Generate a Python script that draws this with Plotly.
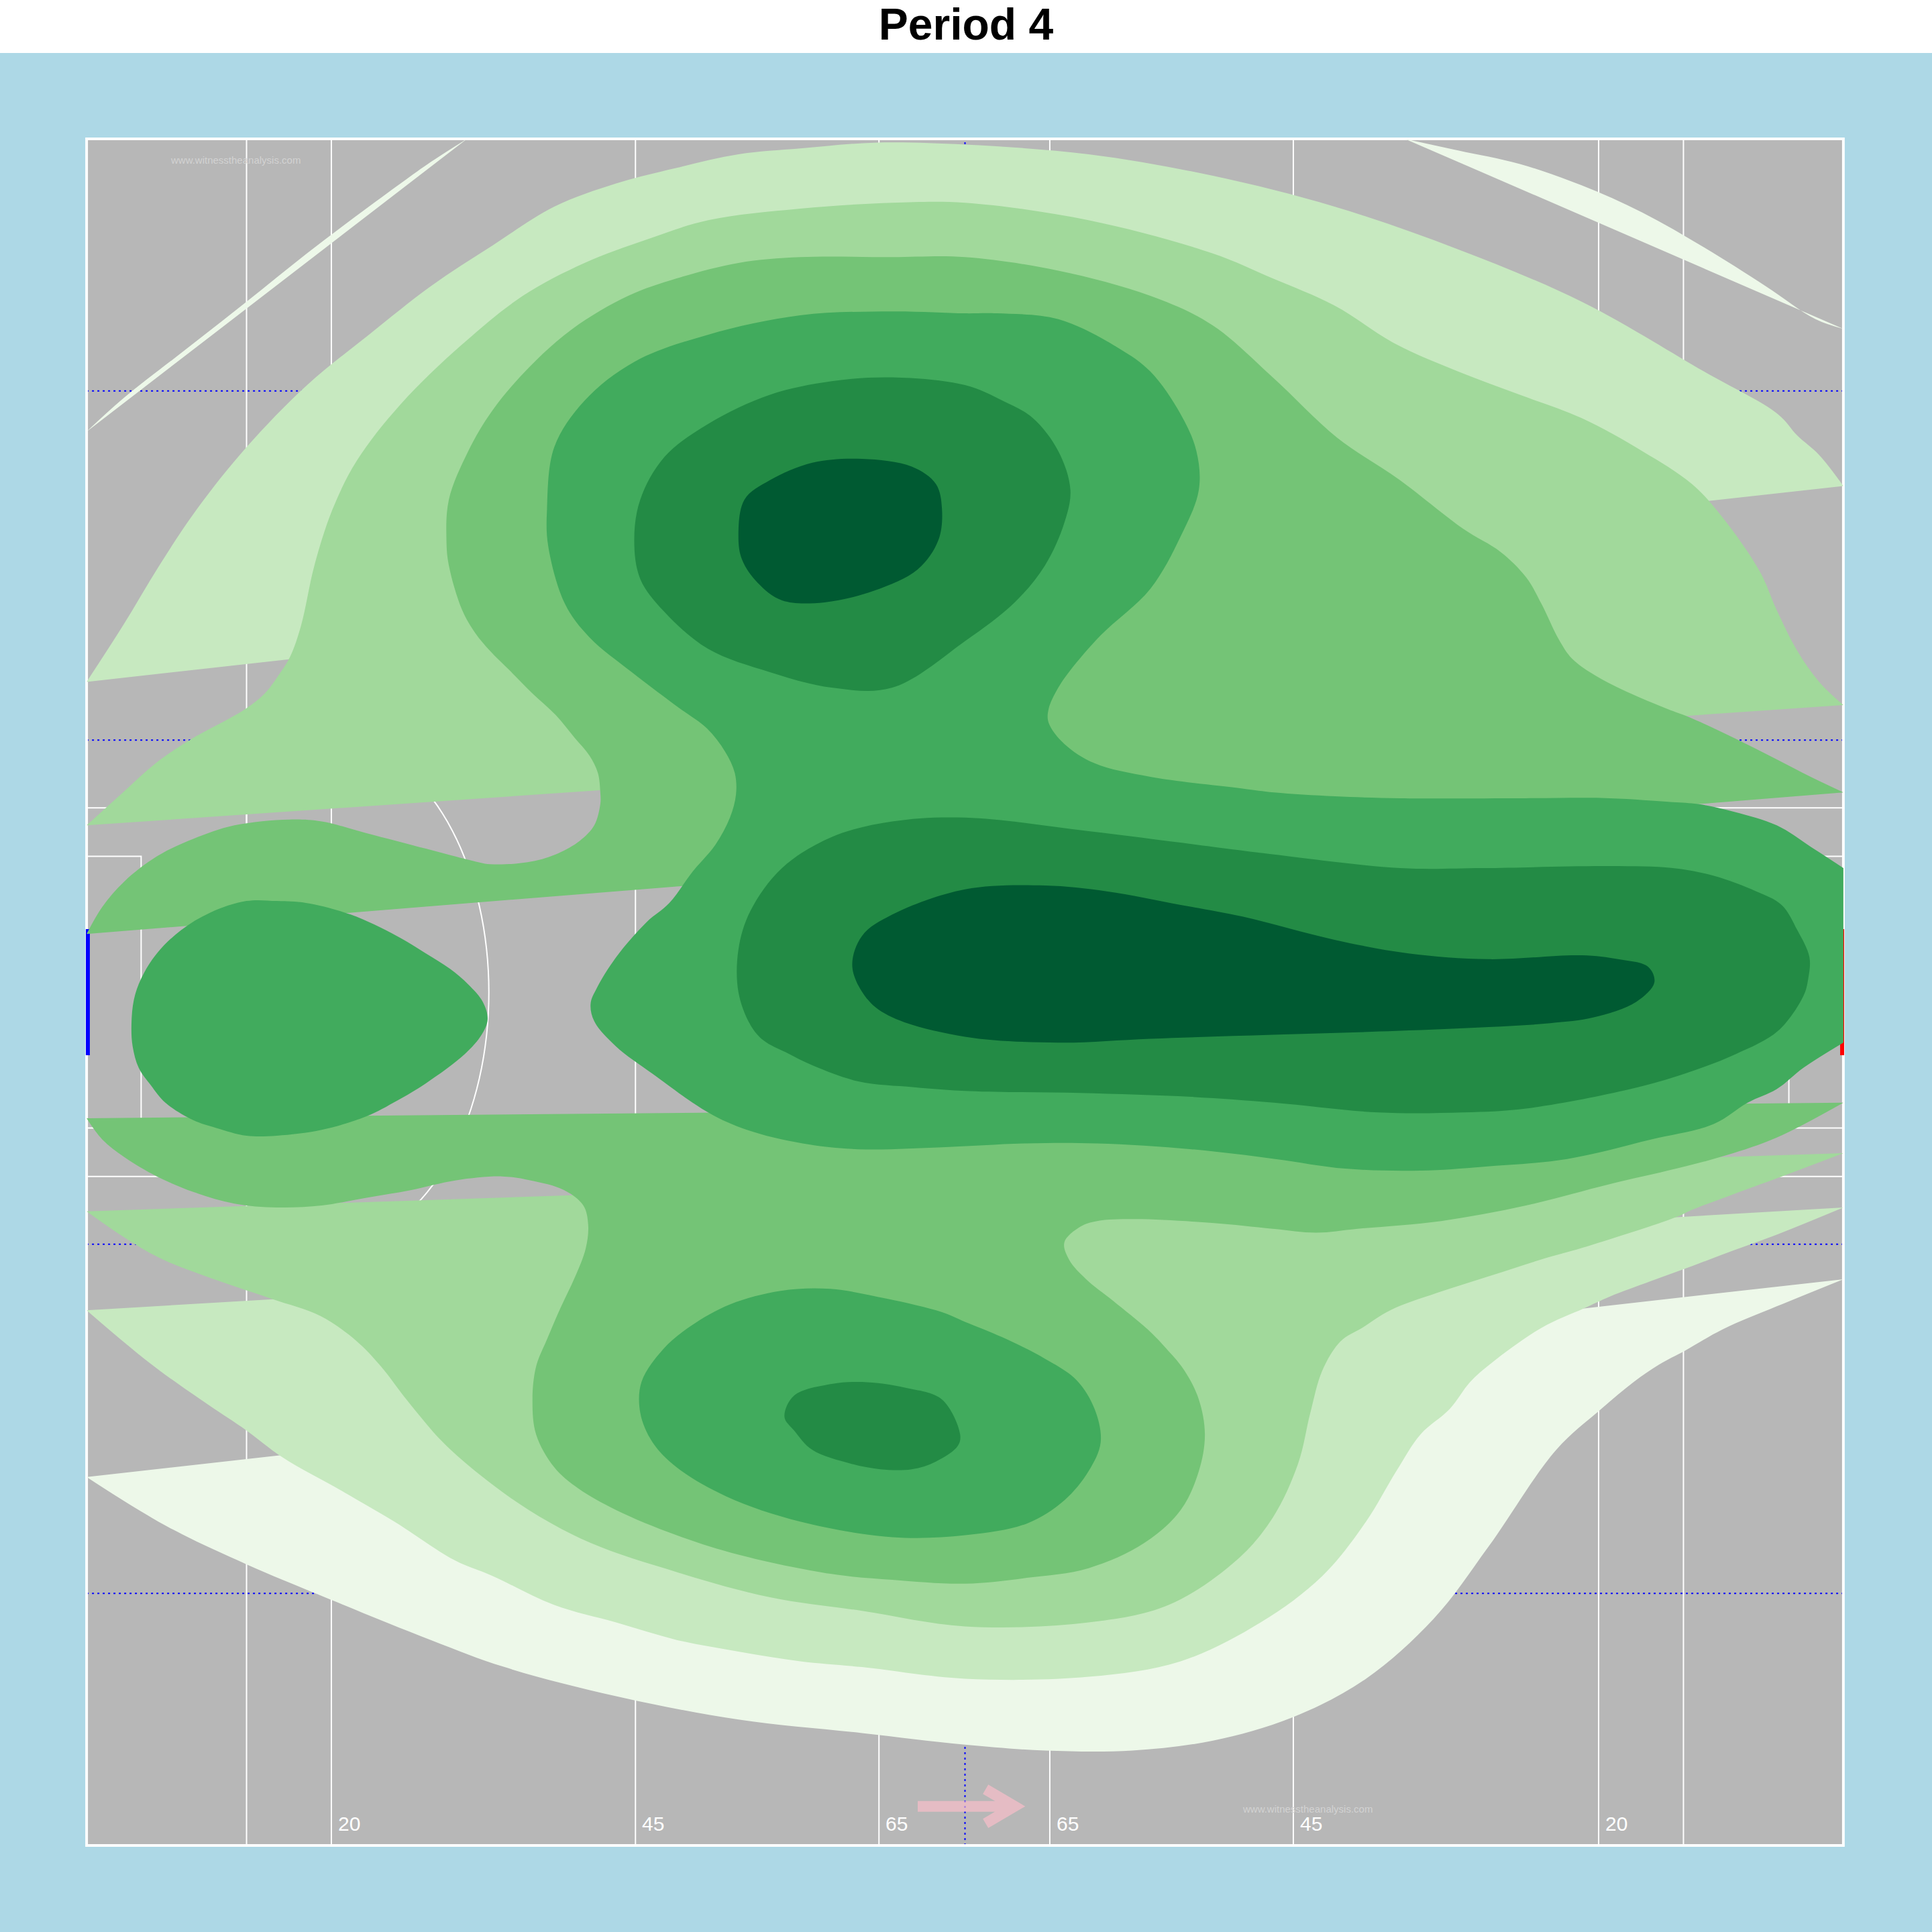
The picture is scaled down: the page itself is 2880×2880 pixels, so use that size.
import numpy as np
import plotly.graph_objects as go

# ---------------- chart data (pitch metres: x 0..145 along, y 0..88 across) ----------------
title_text = "Period 4"
pitch_length = 145
pitch_width = 88
level_colors = ["#edf8e9", "#c7e9c0", "#a1d99b", "#74c476", "#41ab5d", "#238b45", "#005a32"]

marking_lines_x = [13.2, 20.2, 45.3, 65.4, 79.5, 99.6, 124.8, 131.8]
distance_labels = ["20", "45", "65", "65", "45", "20"]
distance_label_x = [20.2, 45.3, 65.4, 79.5, 99.6, 124.8]
dotted_lines_y = [13, 31, 57, 75]
half_way_x = 72.5
goal_center_y = 44
goal_half_width = 3.25
arc_radius = 13
large_box = [13.2, 34.5, 53.5]   # depth, y from, y to
small_box = [4.5, 37.0, 51.0]
watermark = "www.witnesstheanalysis.com"
watermark_pos = [(6.8, 86.9), (95.3, 1.9)]
attack_arrow_x = [68.6, 76.6]
attack_arrow_y = 2.02

# density contour paths, one list pair per path (level 1 = lowest)
l1_a_x = [0, 3.0, 8.1, 13.2, 18.2, 23.3, 28.4, 31.4]
l1_a_y = [72.9, 74.6, 77.1, 79.6, 82.1, 84.5, 86.8, 88.0]
l1_b_x = [108.8, 113.2, 118.3, 123.4, 128.4, 133.5, 138.6, 142.7, 145]
l1_b_y = [88.0, 87.4, 86.7, 85.6, 84.2, 82.4, 80.4, 78.7, 78.2]
l1_c_x = [0, 3.0, 7.1, 13.2, 19.3, 28.4, 34.5, 43.7, 53.8, 64.0, 72.5, 79.1, 86.3, 92.9, 99.5,
          105.6, 111.2, 115.7, 121.3, 125.0, 127.7, 129.8, 131.9, 135.0, 139.5, 145]
l1_c_y = [19.0, 17.8, 16.3, 14.5, 12.9, 10.6, 9.2, 7.7, 6.5, 5.8, 5.2, 4.9, 4.9, 5.4, 6.6,
          8.6, 11.7, 15.4, 20.4, 22.5, 23.9, 24.8, 25.5, 26.6, 27.8, 29.2]

l2_a_x = [0, 3.0, 6.0, 9.1, 13.2, 18.2, 23.3, 28.4, 33.5, 38.6, 43.7, 48.7, 53.8, 58.9, 65.0,
          72.5, 82.7, 92.9, 103.0, 113.2, 123.4, 133.5, 139.6, 141.2, 143.0, 145]
l2_a_y = [60.0, 62.9, 66.0, 68.9, 72.1, 75.3, 77.9, 80.4, 82.5, 84.5, 85.7, 86.5, 87.2, 87.5, 87.8,
          87.7, 87.2, 86.1, 84.5, 82.3, 79.6, 76.0, 73.8, 72.7, 71.7, 70.1]
l2_b_x = [0, 3.0, 6.0, 10.1, 13.2, 16.2, 21.3, 25.4, 30.4, 33.5, 38.6, 43.7, 48.7, 53.8, 58.9,
          64.0, 72.5, 82.7, 90.3, 96.9, 102.0, 105.6, 108.1, 110.1, 112.5, 114.2, 116.0, 120.1,
          123.6, 125.7, 129.1, 132.6, 136.0, 139.5, 145]
l2_b_y = [27.6, 26.0, 24.5, 22.7, 21.4, 20.0, 18.2, 16.7, 14.7, 13.9, 12.4, 11.5, 10.6, 10.0, 9.5,
          9.2, 8.6, 8.7, 9.5, 11.5, 13.9, 16.7, 19.3, 21.2, 22.5, 23.9, 24.9, 26.7,
          27.7, 28.3, 29.1, 29.9, 30.7, 31.5, 32.9]

l3_a_x = [0, 3.0, 5.7, 8.5, 13.1, 14.7, 15.8, 16.8, 17.7, 18.8, 20.3, 22.3, 25.9, 31.0, 36.0,
          41.1, 46.2, 51.3, 58.9, 66.5, 72.5, 82.7, 92.9, 97.9, 103.0, 108.1, 113.2, 118.3,
          123.4, 128.4, 132.5, 135.0, 138.1, 139.5, 141.2, 143.0, 145]
l3_a_y = [52.6, 54.3, 55.8, 57.0, 58.6, 59.4, 60.3, 61.3, 62.9, 66.0, 68.9, 71.4, 74.3, 77.4, 79.9,
          81.6, 82.8, 83.8, 84.4, 84.7, 84.7, 83.8, 82.1, 80.8, 79.4, 77.4, 76.0, 74.8,
          73.6, 71.9, 70.2, 68.5, 65.7, 63.7, 61.6, 60.0, 58.8]
l3_b_x = [0, 3.0, 6.0, 9.6, 15.2, 19.3, 22.3, 24.3, 26.4, 29.4, 32.5, 36.5, 41.6, 48.7, 56.4,
          64.0, 72.5, 82.7, 89.3, 94.9, 97.9, 100.0, 101.0, 102.0, 103.5, 105.3, 107.6, 111.5,
          116.0, 120.5, 123.9, 131.2, 132.6, 136.0, 139.5, 145]
l3_b_y = [32.7, 31.4, 30.3, 29.4, 28.2, 27.3, 26.0, 24.7, 23.0, 20.8, 19.1, 17.3, 15.6, 14.1, 12.8,
          12.1, 11.3, 11.5, 12.4, 14.7, 16.9, 19.7, 22.3, 24.5, 26.0, 26.7, 27.6, 28.5,
          29.4, 30.3, 30.9, 32.4, 32.8, 33.6, 34.4, 35.7]

l4_a_x = [0, 1.3, 3.1, 5.8, 8.8, 12.2, 16.7, 19.4, 23.1, 28.0, 31.7, 33.3, 36.4, 38.7, 40.7,
          41.9, 42.4, 42.4, 42.2, 41.5, 40.3, 38.7, 36.8, 34.9, 33.3, 32.1, 31.0, 29.9, 29.7, 29.9,
          31.5, 33.5, 36.5, 40.1, 44.7, 48.7, 53.8, 58.9, 66.5, 72.5, 80.2, 87.8, 92.9, 97.9, 103.2,
          108.4, 113.6, 116.7, 118.8, 120.1, 121.5, 122.6, 124.6, 127.1, 130.5, 132.2, 136.0,
          139.5, 142.3, 145]
l4_a_y = [47.0, 48.4, 49.7, 51.0, 51.9, 52.6, 52.9, 52.8, 52.2, 51.4, 50.8, 50.6, 50.7, 51.1, 51.8,
          52.6, 53.7, 54.3, 55.3, 56.2, 57.1, 58.3, 59.4, 60.6, 61.6, 62.5, 63.7, 66.0, 67.3, 69.4,
          71.9, 74.0, 76.2, 78.2, 79.9, 80.8, 81.6, 81.9, 81.9, 81.9, 81.2, 79.9, 78.4, 75.7, 72.6,
          70.4, 67.9, 66.7, 65.4, 64.0, 62.2, 61.2, 60.3, 59.5, 58.6, 58.2, 57.1,
          56.0, 55.1, 54.3]
l4_b_x = [0, 1.3, 3.1, 5.8, 8.8, 12.2, 15.7, 19.4, 23.1, 26.8, 30.5, 34.3, 36.6, 39.4, 41.0,
          41.4, 41.2, 40.3, 39.1, 38.0, 37.1, 36.8, 37.1, 38.6, 40.6, 43.7, 48.7, 53.8, 61.5, 66.5,
          72.5, 77.6, 82.7, 87.3, 90.3, 91.8, 92.3, 91.8, 90.6, 89.0, 87.6, 84.7, 82.5, 81.1, 80.7,
          82.0, 83.4, 86.6, 92.9, 97.9, 101.5, 104.9, 111.8, 118.8, 125.7, 131.2, 135.4, 139.5, 145]
l4_b_y = [37.5, 36.4, 35.5, 34.5, 33.7, 33.1, 32.9, 33.0, 33.4, 33.8, 34.3, 34.5, 34.3, 33.8, 33.0,
          32.0, 30.8, 29.3, 27.7, 26.1, 24.7, 23.0, 21.2, 19.5, 18.4, 17.3, 16.0, 15.0, 14.0, 13.7,
          13.5, 13.8, 14.3, 15.6, 17.3, 19.3, 21.2, 23.0, 24.5, 25.7, 26.6, 28.1, 29.2, 30.2, 31.1,
          31.9, 32.2, 32.3, 32.1, 31.8, 31.6, 31.8, 32.2, 33.0, 34.1, 34.9, 35.6, 36.5, 38.3]

l5_a_x = [145, 142.3, 139.5, 136.0, 133.0, 130.9, 125.7, 118.8, 108.4, 103.0, 98.0, 95.4, 87.8, 83.2,
          80.7, 79.4, 79.4, 80.2, 81.2, 83.7, 87.8, 90.3, 91.8, 91.6, 90.3, 87.8, 85.2, 80.2, 75.1,
          72.5, 66.5, 58.9, 51.3, 45.2, 41.1, 38.6, 38.0, 38.1, 39.5, 41.5, 45.0, 48.8, 51.2, 52.7,
          53.5, 53.6, 53.1, 51.9, 50.0, 48.1, 46.2, 43.7, 42.1, 41.6, 41.9, 43.7, 46.7, 51.3, 54.5,
          59.1, 63.7, 70.6, 77.5, 83.4, 91.2, 98.1, 103.9, 110.1, 115.3, 122.2, 129.1, 134.3,
          137.1, 139.5, 141.7, 145]
l5_a_y = [50.4, 51.5, 52.6, 53.3, 53.7, 53.8, 54.0, 54.0, 54.0, 54.1, 54.3, 54.5, 55.1, 55.8,
          56.8, 57.9, 58.6, 59.7, 60.6, 62.4, 64.8, 67.5, 69.9, 71.9, 73.8, 76.0, 77.2, 78.7, 79.0,
          79.0, 79.1, 78.9, 77.9, 76.5, 74.5, 72.1, 68.9, 67.0, 64.0, 62.3, 60.5, 58.7, 57.6, 56.4,
          55.3, 54.2, 53.0, 51.6, 50.2, 48.6, 47.6, 45.8, 44.2, 43.4, 42.5, 41.2, 39.8, 37.8, 36.9,
          36.2, 35.9, 36.0, 36.2, 36.2, 35.9, 35.4, 34.9, 34.8, 35.0, 35.4, 36.4, 37.2,
          38.3, 39.0, 40.1, 41.4]
l5_b_x = [3.7, 3.9, 4.5, 5.8, 7.8, 10.2, 13.2, 15.7, 18.1, 21.8, 25.6, 28.0, 30.0, 31.5, 32.7,
          33.1, 32.6, 31.2, 28.0, 25.6, 23.1, 19.4, 15.7, 13.2, 10.7, 8.8, 6.5, 5.3, 4.3, 3.8]
l5_b_y = [42.3, 43.6, 44.7, 46.0, 47.2, 48.1, 48.7, 48.7, 48.6, 48.0, 46.9, 46.0, 45.2, 44.4, 43.5,
          42.6, 41.8, 40.8, 39.3, 38.4, 37.6, 36.9, 36.6, 36.6, 37.0, 37.4, 38.3, 39.2, 40.1, 41.2]
l5_c_x = [47.6, 49.9, 53.1, 57.3, 61.4, 66.0, 70.6, 72.5, 75.6, 79.1, 81.7, 83.2, 83.7, 82.7,
          80.7, 77.6, 72.5, 66.5, 58.9, 52.8, 48.7, 46.7, 45.7, 45.8]
l5_c_y = [25.6, 26.8, 27.9, 28.6, 28.7, 28.2, 27.5, 27.0, 26.2, 25.1, 24.0, 22.5, 20.8, 19.3,
          17.8, 16.6, 16.0, 15.9, 16.7, 18.0, 19.5, 20.8, 22.3, 23.9]

l6_a_x = [72.5, 75.6, 78.1, 80.2, 81.2, 80.7, 79.1, 76.6, 72.5, 66.5, 61.5, 56.4, 51.3, 47.7, 45.7,
          45.2, 45.7, 47.7, 51.3, 56.4, 61.5, 66.5]
l6_a_y = [75.3, 74.5, 73.6, 71.9, 69.9, 68.2, 66.0, 64.1, 62.1, 59.7, 59.7, 60.5, 61.7, 63.6, 65.3,
          67.3, 69.4, 71.6, 73.3, 74.8, 75.5, 75.7]
l6_b_x = [72.5, 82.7, 92.9, 98.0, 108.4, 115.3, 125.7, 130.9, 134.3, 137.8, 139.9, 141.2, 142.2,
          142.1, 141.7, 139.6, 136.1, 131.9, 127.4, 118.8, 113.6, 106.6, 98.0, 91.2, 82.0, 72.9,
          68.3, 63.7, 60.0, 57.7, 55.9, 54.8, 53.8, 53.8, 54.8, 57.4, 61.5, 66.5]
l6_b_y = [53.0, 52.3, 51.5, 51.1, 50.4, 50.4, 50.5, 50.4, 50.0, 49.2, 48.5, 47.2, 45.8,
          44.7, 43.8, 42.0, 40.8, 39.8, 39.0, 38.0, 37.8, 37.8, 38.3, 38.6, 38.8, 38.9,
          39.1, 39.4, 40.2, 40.9, 41.5, 42.3, 44.0, 46.2, 48.2, 50.4, 52.0, 52.8]
l6_c_x = [57.6, 58.4, 61.5, 64.0, 67.6, 70.6, 72.1, 71.9, 70.1, 68.1, 65.5, 63.0, 59.9, 58.4]
l6_c_y = [22.1, 23.2, 23.8, 23.9, 23.6, 23.0, 21.2, 20.6, 19.8, 19.4, 19.4, 19.7, 20.4, 21.4]

l7_a_x = [53.8, 54.3, 56.4, 59.9, 64.0, 68.1, 70.1, 70.6, 70.3, 68.6, 65.0, 60.9, 57.4, 55.4, 54.1]
l7_a_y = [67.5, 69.4, 70.4, 71.3, 71.5, 71.1, 70.2, 68.9, 67.3, 65.8, 64.7, 64.1, 64.2, 65.1, 66.3]
l7_b_x = [63.2, 64.0, 66.5, 72.5, 79.1, 84.2, 90.3, 95.4, 103.0, 109.1, 115.7, 123.4, 126.4,
          128.9, 129.4, 127.9, 124.4, 120.8, 115.7, 108.1, 97.9, 87.8, 80.2, 72.5, 66.5, 64.5]
l7_b_y = [45.3, 46.9, 48.0, 49.3, 49.5, 49.2, 48.5, 47.9, 46.7, 46.0, 45.7, 45.9, 45.7,
          45.3, 44.5, 43.5, 42.7, 42.4, 42.2, 42.0, 41.8, 41.6, 41.4, 41.7, 42.7, 43.6]

# (x, y, is a closed ring inside the pitch)
level_paths = [
    [(l1_a_x, l1_a_y, False), (l1_b_x, l1_b_y, False), (l1_c_x, l1_c_y, False)],
    [(l2_a_x, l2_a_y, False), (l2_b_x, l2_b_y, False)],
    [(l3_a_x, l3_a_y, False), (l3_b_x, l3_b_y, False)],
    [(l4_a_x, l4_a_y, False), (l4_b_x, l4_b_y, False)],
    [(l5_a_x, l5_a_y, False), (l5_b_x, l5_b_y, True), (l5_c_x, l5_c_y, True)],
    [(l6_a_x, l6_a_y, True), (l6_b_x, l6_b_y, True), (l6_c_x, l6_c_y, True)],
    [(l7_a_x, l7_a_y, True), (l7_b_x, l7_b_y, True)],
]

# ---------------- styling ----------------
W = H = 2880
M_L, M_R, M_T, M_B = 93, 96, 178, 100
X_RANGE = [-2, 147]
Y_RANGE = [-1, 89]
GRASS = "#B7B7B7"
SKY = "#ADD8E6"
FONT = "Liberation Sans, Arial, sans-serif"

fig = go.Figure()

# contour polygons: open paths are closed by their chord, rings are smoothed all round
for color, paths in zip(level_colors, level_paths):
    for px, py, ring in paths:
        assert len(px) == len(py)
        xs, ys = list(px), list(py)
        if ring:
            xs.append(xs[0])
            ys.append(ys[0])
        fig.add_trace(go.Scatter(x=xs, y=ys, mode="lines", fill="toself", fillcolor=color,
                                 line=dict(width=0, color=color, shape="spline", smoothing=1.0),
                                 hoverinfo="skip"))

# attacking direction arrow
ax0, ax1 = attack_arrow_x
fig.add_trace(go.Scatter(
    x=[ax0, ax1, None, ax1 - 2.4, ax1, ax1 - 2.4],
    y=[attack_arrow_y, attack_arrow_y, None, attack_arrow_y + 0.88, attack_arrow_y, attack_arrow_y - 0.88],
    mode="lines", line=dict(color="#FFC0CB", width=16), opacity=0.65, hoverinfo="skip"))

shapes = []
# pitch surface
shapes.append(dict(type="rect", xref="x", yref="y", x0=0, x1=pitch_length, y0=0, y1=pitch_width,
                   fillcolor=GRASS, line=dict(width=0), layer="below"))
# white markings
for xv in marking_lines_x:
    shapes.append(dict(type="line", xref="x", yref="y", x0=xv, x1=xv, y0=0, y1=pitch_width,
                       line=dict(color="white", width=2), layer="below"))
for depth, ya, yb in (large_box, small_box):
    for x0, x1 in ((0, depth), (pitch_length - depth, pitch_length)):
        shapes.append(dict(type="rect", xref="x", yref="y", x0=x0, x1=x1, y0=ya, y1=yb,
                           line=dict(color="white", width=2), fillcolor="rgba(0,0,0,0)", layer="below"))
theta = np.linspace(-np.pi / 2, np.pi / 2, 73)
for cx, sgn in ((distance_label_x[0], 1), (distance_label_x[-1], -1)):
    ax_ = cx + sgn * arc_radius * np.cos(theta)
    ay_ = goal_center_y + arc_radius * np.sin(theta)
    path = "M " + " L ".join(f"{a:.3f},{b:.3f}" for a, b in zip(ax_, ay_))
    shapes.append(dict(type="path", xref="x", yref="y", path=path,
                       line=dict(color="white", width=2), layer="below"))
# blue dotted guide lines
for yv in dotted_lines_y:
    shapes.append(dict(type="line", xref="x", yref="y", x0=0, x1=pitch_length, y0=yv, y1=yv,
                       line=dict(color="blue", width=2, dash="3px,5px"), layer="below"))
shapes.append(dict(type="line", xref="x", yref="y", x0=half_way_x, x1=half_way_x, y0=0, y1=pitch_width,
                   line=dict(color="blue", width=2, dash="3px,5px"), layer="below"))
# boundary
shapes.append(dict(type="rect", xref="x", yref="y", x0=0, x1=pitch_length, y0=0, y1=pitch_width,
                   line=dict(color="white", width=4), fillcolor="rgba(0,0,0,0)", layer="below"))
# goals (drawn at the end lines)
for gx, gc in ((0.1, "blue"), (pitch_length - 0.1, "red")):
    shapes.append(dict(type="line", xref="x", yref="y", x0=gx, x1=gx,
                       y0=goal_center_y - goal_half_width, y1=goal_center_y + goal_half_width,
                       line=dict(color=gc, width=6), layer="below"))
# white title band
plot_h = H - M_T - M_B
shapes.append(dict(type="rect", xref="paper", yref="paper", x0=-0.2, x1=1.2,
                   y0=(plot_h + M_T - 79) / plot_h, y1=1.3,
                   fillcolor="white", line=dict(width=0), layer="below"))

annotations = []
for lbl, xv in zip(distance_labels, distance_label_x):
    annotations.append(dict(x=xv, y=1.12, xref="x", yref="y", text=lbl, showarrow=False,
                            xanchor="left", yanchor="middle", xshift=8,
                            font=dict(family=FONT, size=30, color="white")))
for wx, wy in watermark_pos:
    annotations.append(dict(x=wx, y=wy, xref="x", yref="y", text=watermark, showarrow=False,
                            xanchor="left", yanchor="middle",
                            font=dict(family=FONT, size=15, color="#D2D2D2")))

fig.update_layout(
    width=W, height=H,
    paper_bgcolor=SKY, plot_bgcolor=SKY,
    margin=dict(l=M_L, r=M_R, t=M_T, b=M_B, pad=0, autoexpand=False),
    xaxis=dict(range=X_RANGE, visible=False, showgrid=False, zeroline=False),
    yaxis=dict(range=Y_RANGE, visible=False, showgrid=False, zeroline=False),
    showlegend=False,
    shapes=shapes,
    annotations=annotations,
    title=dict(text=title_text, x=0.5, xanchor="center", xref="container",
               y=1 - 36 / H, yanchor="middle", yref="container",
               font=dict(family=FONT, size=66, color="black", weight="bold")),
)

fig.write_html("out.html", config={"displayModeBar": False},
               post_script="document.body.style.margin='0px';")
